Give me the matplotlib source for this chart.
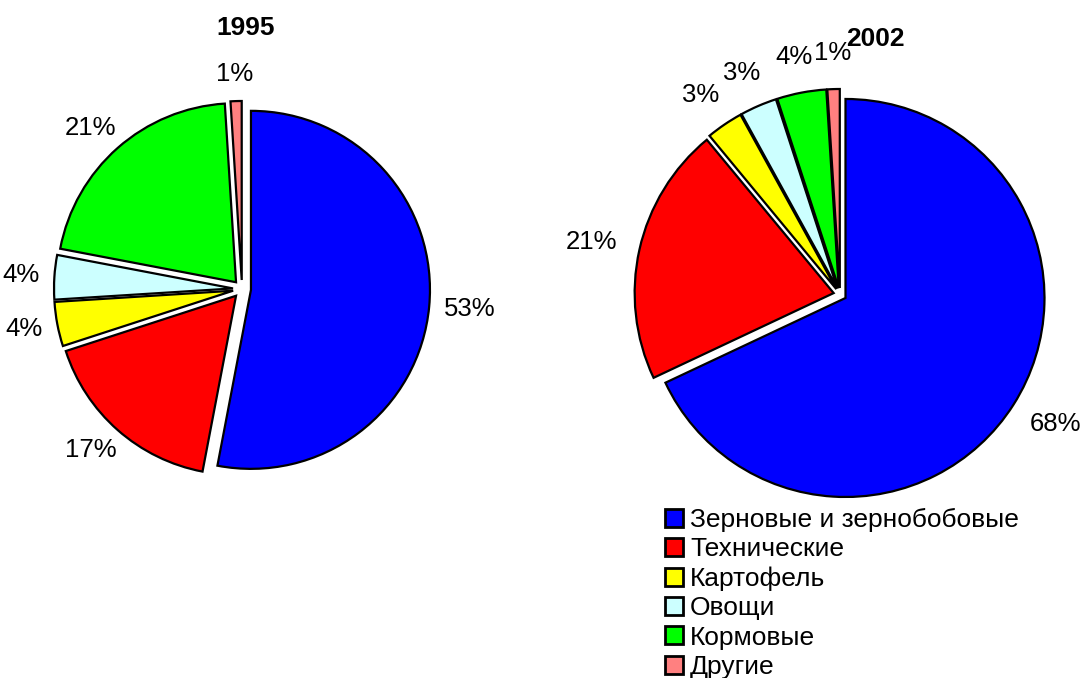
import numpy as np
import matplotlib
matplotlib.use("Agg")
import matplotlib.pyplot as plt

plt.rcParams["font.family"] = ["Liberation Sans", "DejaVu Sans"]

# Data
categories = ["Зерновые и зернобобовые", "Технические", "Картофель",
              "Овощи", "Кормовые", "Другие"]
colors = ["#0000FF", "#FF0000", "#FFFF00", "#CCFFFF", "#00FF00", "#FF8080"]
shares_1995 = [53, 17, 4, 4, 21, 1]
shares_2002 = [68, 21, 3, 3, 4, 1]
years = ["1995", "2002"]

W, H = 1082, 678
fig = plt.figure(figsize=(W / 100, H / 100), dpi=100)
ax = fig.add_axes([0, 0, 1, 1])

wedge_style = {"edgecolor": "black", "linewidth": 1.6}
text_style = {"fontsize": 18.5, "color": "black"}

# 1995 pie (left), all slices pulled out (axes units are pixels here)
wedges, _, pct1 = ax.pie(shares_1995, colors=colors, startangle=90, counterclock=False,
                         center=(242, H - 289), radius=179, explode=[9] * 6,
                         autopct="%1.0f%%", pctdistance=1.085, wedgeprops=wedge_style,
                         textprops=text_style, frame=False)

# 2002 pie (right)
wedges2, _, pct2 = ax.pie(shares_2002, colors=colors, startangle=90, counterclock=False,
                          center=(840, H - 294.5), radius=199, explode=[6.5] * 6,
                          autopct="%1.0f%%", pctdistance=1.12, wedgeprops=wedge_style,
                          textprops=text_style, frame=False)

ax.set_xlim(0, W)
ax.set_ylim(0, H)
ax.set_aspect("equal")
ax.axis("off")

# push percent labels outward so their near edge sits at the anchor (Excel-like)
renderer = fig.canvas.get_renderer()
for ws, ts in [(wedges, pct1), (wedges2, pct2)]:
    for w, t in zip(ws, ts):
        x, y = t.get_position()
        ang = np.arctan2(y - w.center[1], x - w.center[0])
        bb = t.get_window_extent(renderer=renderer)
        t.set_position((x + bb.width / 2 * np.cos(ang), y + bb.height / 2 * np.sin(ang)))

ax.text(246, H - 28, years[0], ha="center", va="center", fontsize=19, fontweight="bold")
ax.text(875, H - 39, years[1], ha="center", va="center", fontsize=19, fontweight="bold")

leg = fig.legend(wedges, categories, loc="upper left", bbox_to_anchor=(665 / W, 1 - 508 / H),
                 frameon=False, fontsize=19, handlelength=0.68, handleheight=0.68,
                 handletextpad=0.27, labelspacing=0.2, borderpad=0, borderaxespad=0)
for h in leg.legend_handles:
    h.set_linewidth(2)

fig.savefig("out.png", dpi=100)
